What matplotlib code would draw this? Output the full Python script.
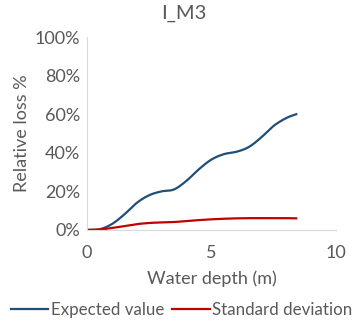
import numpy as np
import matplotlib
matplotlib.use("Agg")
from matplotlib import pyplot as plt

depth = [0, 0.5, 1, 1.5, 2, 2.5, 3, 3.5, 4, 4.5, 5, 5.5, 6, 6.5, 7, 7.5, 8, 8.4]
expected = [0, 0.3, 3, 8, 14, 18, 20, 21, 25.5, 31.5, 36.5, 39.3, 40.5, 43, 48, 54, 58, 60]
std_dev = [0, 0.2, 1, 2, 3, 3.6, 3.9, 4.1, 4.6, 5.1, 5.5, 5.8, 6, 6.1, 6.1, 6.1, 6.1, 6]

title = "I_M3"
x_label = "Water depth (m)"
y_label = "Relative loss %"
series_names = ["Expected value", "Standard deviation"]
colors = ["#1f4e79", "#c00000"]


def smooth(x, y, n=20):
    # catmull-rom style smoothing, like excel's smoothed line
    x = np.asarray(x, float)
    y = np.asarray(y, float)
    px = np.concatenate([[2 * x[0] - x[1]], x, [2 * x[-1] - x[-2]]])
    py = np.concatenate([[2 * y[0] - y[1]], y, [2 * y[-1] - y[-2]]])
    xs, ys = [], []
    t = np.linspace(0, 1, n, endpoint=False)
    for i in range(1, len(px) - 2):
        for arr, out in ((px, xs), (py, ys)):
            p0, p1, p2, p3 = arr[i - 1], arr[i], arr[i + 1], arr[i + 2]
            out.extend(0.5 * (2 * p1 + (-p0 + p2) * t + (2 * p0 - 5 * p1 + 4 * p2 - p3) * t ** 2
                              + (-p0 + 3 * p1 - 3 * p2 + p3) * t ** 3))
    xs.append(x[-1])
    ys.append(y[-1])
    return np.array(xs), np.array(ys)


plt.rcParams["font.family"] = ["Lato", "DejaVu Sans"]
gray = "#595959"

fig = plt.figure(figsize=(3.56, 3.28), dpi=100)
ax = fig.add_axes([0.244, 0.299, 0.7, 0.588])

for vals, name, c in zip([expected, std_dev], series_names, colors):
    sx, sy = smooth(depth, vals)
    ax.plot(sx, sy, color=c, lw=1.6, label=name)

ax.set_xlim(0, 10)
ax.set_ylim(0, 100)
ax.set_xticks([0, 5, 10])
ax.set_yticks(range(0, 101, 20))
ax.set_yticklabels([f"{v}%" for v in range(0, 101, 20)])
ax.tick_params(length=0, labelsize=13, colors=gray, pad=5)
ax.tick_params(axis="x", pad=11)
for s in ["top", "right"]:
    ax.spines[s].set_visible(False)
for s in ["left", "bottom"]:
    ax.spines[s].set_color("#d9d9d9")

fig.suptitle(title, x=0.517, y=0.985, fontsize=14.5, color=gray)
ax.set_xlabel(x_label, fontsize=13, color=gray, labelpad=7)
ax.set_ylabel(y_label, fontsize=13, color=gray, labelpad=3)

fig.legend(loc="lower center", bbox_to_anchor=(0.51, -0.015), ncol=2, frameon=False,
           fontsize=12.2, labelcolor=gray, handlelength=2.2, handletextpad=0.15, columnspacing=0.5)

fig.savefig("out.png", dpi=100)
